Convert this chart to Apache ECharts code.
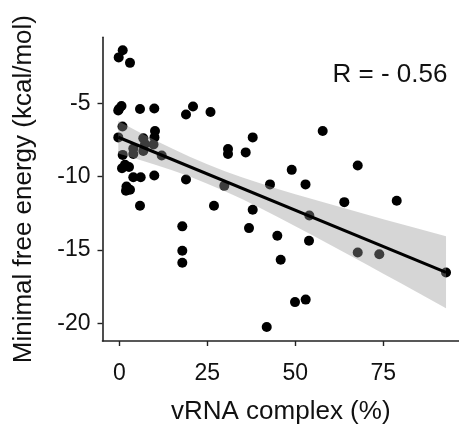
<!DOCTYPE html>
<html><head><meta charset="utf-8">
<script src="https://cdn.jsdelivr.net/npm/echarts@6/dist/echarts.min.js"></script>
<style>html,body{margin:0;padding:0;background:#fff}#c{width:459px;height:430px}</style>
</head><body><div id="c"></div>
<script>
// vRNA complex (%)
const xValues = [0.97,-0.17,3.04,-0.09,-0.3,0.63,5.88,9.94,20.94,18.95,25.91,0.91,-0.28,10.14,10.0,6.82,7.3,9.72,3.98,6.82,0.97,3.98,12.05,1.62,2.76,0.77,3.98,6.08,9.94,18.95,2.05,1.9,3.04,5.88,37.9,30.88,30.88,35.91,57.78,48.98,67.73,42.81,52.9,29.83,26.9,37.9,63.92,78.81,53.98,17.9,36.85,44.89,53.89,17.9,45.85,17.9,67.73,73.86,92.81,49.91,52.95,41.88];
// Minimal free energy (kcal/mol)
const yValues = [-1.38,-1.87,-2.24,-5.39,-5.49,-5.18,-5.39,-5.35,-5.22,-5.76,-5.59,-6.58,-7.32,-6.88,-7.32,-7.38,-7.77,-7.8,-8.07,-8.24,-8.51,-8.45,-8.55,-9.19,-9.33,-9.42,-10.04,-10.04,-9.92,-10.19,-10.66,-10.96,-10.89,-11.98,-7.32,-8.11,-8.45,-8.34,-6.88,-9.53,-9.23,-10.52,-10.52,-10.62,-11.98,-12.25,-11.73,-11.64,-12.64,-13.38,-13.5,-14.02,-14.36,-15.04,-15.65,-15.86,-15.16,-15.28,-16.52,-18.54,-18.37,-20.24];
// fitted regression line
const fitX = [-0.28, 92.81];
const fitY = [-7.31, -16.51];
// confidence band
const bandX = [-0.28,5,10,15,20,25,30,35,40,45,50,55,60,65,70,75,80,85,92.81];
const bandUpper = [-6.21,-6.88,-7.49,-8.08,-8.63,-9.15,-9.62,-10.05,-10.45,-10.83,-11.19,-11.54,-11.88,-12.22,-12.56,-12.89,-13.22,-13.55,-14.06];
const bandLower = [-8.41,-8.79,-9.17,-9.56,-9.99,-10.47,-10.98,-11.54,-12.13,-12.74,-13.37,-14.01,-14.65,-15.30,-15.95,-16.61,-17.26,-17.92,-18.96];
const xTicks = [0,25,50,75];
const yTicks = [-20,-15,-10,-5];
const annotation = 'R = - 0.56';
const xTitle = 'vRNA complex (%)';
const yTitle = 'Minimal free energy (kcal/mol)';

const FONT = 'Liberation Sans';
const points = xValues.map((x, i) => [x, yValues[i]]);
const bandData = bandX.map((x, i) => [x, bandLower[i], bandUpper[i]]);
const axisColor = '#222';

const chart = echarts.init(document.getElementById('c'), null, {renderer: 'canvas'});
chart.setOption({
  animation: false,
  backgroundColor: '#fff',
  grid: {left: 102.5, right: 0, top: 37.3, bottom: 88.5, containLabel: false},
  xAxis: {
    type: 'value', min: -4.77, max: 96.5,
    name: xTitle, nameLocation: 'middle', nameGap: 58,
    nameTextStyle: {fontFamily: FONT, fontSize: 26, color: '#111'},
    axisLine: {show: true, onZero: false, lineStyle: {color: axisColor, width: 1.6}},
    axisTick: {show: true, length: 5, lineStyle: {color: axisColor, width: 1.4}, customValues: xTicks},
    axisLabel: {fontFamily: FONT, fontSize: 23, color: '#111', margin: 21, customValues: xTicks},
    splitLine: {show: false}
  },
  yAxis: {
    type: 'value', min: -21.19, max: -0.5,
    name: yTitle, nameLocation: 'middle', nameGap: 66,
    nameTextStyle: {fontFamily: FONT, fontSize: 26, color: '#111'},
    axisLine: {show: true, onZero: false, lineStyle: {color: axisColor, width: 1.6}},
    axisTick: {show: true, length: 5, lineStyle: {color: axisColor, width: 1.4}, customValues: yTicks},
    axisLabel: {fontFamily: FONT, fontSize: 23, color: '#111', margin: 12, customValues: yTicks},
    splitLine: {show: false}
  },
  graphic: [{
    type: 'text', x: 390, y: 75, z: 10,
    style: {text: annotation, font: '26px "' + FONT + '"', fill: '#111', textAlign: 'center', textVerticalAlign: 'middle'}
  }],
  series: [
    {
      type: 'scatter', data: points, symbol: 'circle', symbolSize: 10, z: 2,
      itemStyle: {color: '#000', opacity: 1}
    },
    {
      type: 'custom', z: 3, data: bandData,
      encode: {x: 0, y: [1, 2]},
      renderItem: function (params, api) {
        if (params.dataIndex !== 0) return null;
        const pts = [];
        for (let i = 0; i < bandX.length; i++) pts.push(api.coord([bandX[i], bandUpper[i]]));
        for (let i = bandX.length - 1; i >= 0; i--) pts.push(api.coord([bandX[i], bandLower[i]]));
        return {type: 'polygon', shape: {points: pts}, style: {fill: 'rgba(153,153,153,0.4)', stroke: null}};
      }
    },
    {
      type: 'line', z: 4, data: fitX.map((x, i) => [x, fitY[i]]),
      symbol: 'none', lineStyle: {color: '#000', width: 3}
    }
  ]
});
</script>
</body></html>
